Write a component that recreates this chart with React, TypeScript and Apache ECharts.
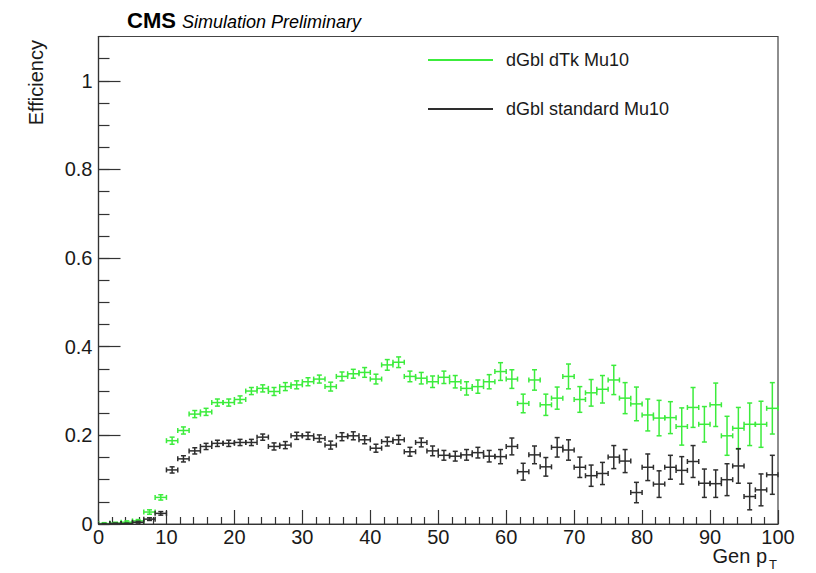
import React, { useEffect, useRef } from "react";
import * as echarts from "echarts";

// Binning: 60 bins from 0 to 100 GeV
const N_BINS = 60;
const X_MIN = 0;
const X_MAX = 100;
const BIN_WIDTH = (X_MAX - X_MIN) / N_BINS;

const X_TICKS = [0, 10, 20, 30, 40, 50, 60, 70, 80, 90, 100];
const Y_TICK_LABELS = ["0", "0.2", "0.4", "0.6", "0.8", "1"];

const SERIES_NAMES = ["dGbl dTk Mu10", "dGbl standard Mu10"];

// dGbl dTk Mu10 (green)
const dTkEff = [
  0.001, 0.002, 0.004, 0.007, 0.027, 0.060, 0.188, 0.211, 0.248, 0.253,
  0.274, 0.274, 0.281, 0.300, 0.306, 0.299, 0.310, 0.314, 0.321, 0.327,
  0.310, 0.333, 0.339, 0.342, 0.327, 0.359, 0.365, 0.333, 0.329, 0.321,
  0.331, 0.321, 0.306, 0.310, 0.321, 0.344, 0.327, 0.272, 0.325, 0.269,
  0.284, 0.333, 0.281, 0.296, 0.304, 0.325, 0.284, 0.271, 0.246, 0.239,
  0.240, 0.220, 0.263, 0.225, 0.269, 0.199, 0.216, 0.225, 0.225, 0.261,
];
const dTkErr = [
  0.002, 0.002, 0.003, 0.003, 0.005, 0.006, 0.008, 0.008, 0.008, 0.008,
  0.008, 0.008, 0.008, 0.008, 0.008, 0.009, 0.009, 0.009, 0.009, 0.009,
  0.010, 0.010, 0.010, 0.011, 0.011, 0.012, 0.012, 0.012, 0.013, 0.013,
  0.014, 0.014, 0.015, 0.015, 0.016, 0.020, 0.021, 0.021, 0.023, 0.024,
  0.025, 0.028, 0.029, 0.030, 0.031, 0.033, 0.035, 0.038, 0.036, 0.040,
  0.036, 0.042, 0.045, 0.040, 0.049, 0.044, 0.047, 0.048, 0.052, 0.058,
];

// dGbl standard Mu10 (black)
const stdEff = [
  0.000, 0.001, 0.001, 0.004, 0.011, 0.024, 0.122, 0.147, 0.165, 0.175,
  0.182, 0.182, 0.184, 0.184, 0.196, 0.175, 0.178, 0.199, 0.199, 0.193,
  0.178, 0.197, 0.199, 0.190, 0.171, 0.186, 0.190, 0.163, 0.184, 0.165,
  0.155, 0.153, 0.156, 0.161, 0.153, 0.152, 0.175, 0.118, 0.156, 0.129,
  0.173, 0.167, 0.128, 0.109, 0.114, 0.151, 0.142, 0.071, 0.128, 0.090,
  0.128, 0.121, 0.141, 0.092, 0.091, 0.100, 0.131, 0.062, 0.077, 0.111,
];
const stdErr = [
  0.001, 0.001, 0.001, 0.002, 0.003, 0.004, 0.007, 0.007, 0.007, 0.007,
  0.007, 0.007, 0.007, 0.007, 0.007, 0.008, 0.008, 0.008, 0.008, 0.008,
  0.009, 0.009, 0.009, 0.009, 0.009, 0.010, 0.010, 0.010, 0.010, 0.011,
  0.011, 0.011, 0.012, 0.012, 0.013, 0.016, 0.019, 0.019, 0.020, 0.021,
  0.022, 0.023, 0.023, 0.024, 0.025, 0.026, 0.026, 0.023, 0.030, 0.030,
  0.027, 0.031, 0.036, 0.032, 0.031, 0.036, 0.039, 0.030, 0.036, 0.044,
];

const GREEN = "#3cec3c";
const BLACK = "#2e2e2e";
const FONT = "Liberation Sans, Arial, Helvetica, sans-serif";

const binCenters = Array.from({ length: N_BINS }, (_, i) => X_MIN + (i + 0.5) * BIN_WIDTH);

function makeErrorSeries(name: string, vals: number[], errs: number[], color: string) {
  const data = binCenters.map((c, i) => [c, vals[i], errs[i]]);
  return {
    name,
    type: "custom",
    xAxisIndex: 0,
    yAxisIndex: 0,
    clip: true,
    encode: { x: 0, y: 1 },
    data,
    renderItem: (_params: any, api: any) => {
      const x = api.value(0);
      const y = api.value(1);
      const e = api.value(2);
      const hw = BIN_WIDTH / 2;
      const l = api.coord([x - hw, y]);
      const r = api.coord([x + hw, y]);
      const b = api.coord([x, y - e]);
      const t = api.coord([x, y + e]);
      const cap = 2.5;
      const style = { stroke: color, lineWidth: 1.5, fill: "none" };
      return {
        type: "group",
        children: [
          { type: "line", shape: { x1: l[0], y1: l[1], x2: r[0], y2: r[1] }, style },
          { type: "line", shape: { x1: l[0], y1: l[1] - cap, x2: l[0], y2: l[1] + cap }, style },
          { type: "line", shape: { x1: r[0], y1: r[1] - cap, x2: r[0], y2: r[1] + cap }, style },
          { type: "line", shape: { x1: b[0], y1: b[1], x2: t[0], y2: t[1] }, style },
          { type: "line", shape: { x1: t[0] - cap, y1: t[1], x2: t[0] + cap, y2: t[1] }, style },
          { type: "line", shape: { x1: b[0] - cap, y1: b[1], x2: b[0] + cap, y2: b[1] }, style },
        ],
      };
    },
  };
}

export default function App() {
  const ref = useRef<HTMLDivElement>(null);

  useEffect(() => {
    if (!ref.current) return;
    const chart = echarts.init(ref.current, undefined, { renderer: "svg" });
    const axisColor = "#333";
    const option: any = {
      animation: false,
      backgroundColor: "#ffffff",
      grid: {
        left: 98.5,
        right: 38,
        top: 36.5,
        bottom: 49,
        show: true,
        borderColor: "#444",
        borderWidth: 1.2,
        backgroundColor: "transparent",
      },
      xAxis: {
        type: "value",
        min: X_MIN,
        max: X_MAX,
        interval: 10,
        axisLine: { show: true, onZero: false, lineStyle: { color: axisColor, width: 1.2 } },
        axisTick: { show: true, inside: true, length: 14, lineStyle: { color: axisColor, width: 1.2 } },
        minorTick: { show: true, splitNumber: 5, length: 7, lineStyle: { color: axisColor, width: 1.2 } },
        splitLine: { show: false },
        minorSplitLine: { show: false },
        axisLabel: {
          show: true,
          margin: 3,
          fontSize: 20,
          fontFamily: FONT,
          color: "#1a1a1a",
          formatter: (v: number) => (X_TICKS.includes(v) ? String(v) : ""),
        },
      },
      yAxis: [
        {
          type: "value",
          min: 0,
          max: 1.1,
          interval: 0.2,
          position: "left",
          axisLine: { show: true, onZero: false, lineStyle: { color: axisColor, width: 1.2 } },
          axisTick: { show: true, inside: true, length: 22, lineStyle: { color: axisColor, width: 1.2 } },
          splitLine: { show: false },
          axisLabel: {
            show: true,
            margin: 6,
            fontSize: 20,
            fontFamily: FONT,
            color: "#1a1a1a",
            showMaxLabel: false,
            formatter: (v: number) => {
              const idx = Math.round(v / 0.2);
              if (Math.abs(v - idx * 0.2) > 1e-6) return "";
              return Y_TICK_LABELS[idx] ?? "";
            },
          },
        },
        {
          type: "value",
          min: 0,
          max: 1.1,
          interval: 0.05,
          position: "left",
          offset: 0,
          axisLine: { show: false },
          axisTick: { show: true, inside: true, length: 11, lineStyle: { color: axisColor, width: 1.2 } },
          splitLine: { show: false },
          axisLabel: { show: false },
        },
      ],
      series: [
        makeErrorSeries(SERIES_NAMES[0], dTkEff, dTkErr, GREEN),
        makeErrorSeries(SERIES_NAMES[1], stdEff, stdErr, BLACK),
      ],
      graphic: [
        {
          type: "text",
          x: 127,
          y: 31,
          style: { text: "CMS", font: `bold 22px ${FONT}`, fill: "#000", textAlign: "left", textVerticalAlign: "bottom" },
        },
        {
          type: "text",
          x: 182,
          y: 30.5,
          style: { text: "Simulation Preliminary", font: `italic 18px ${FONT}`, fill: "#000", textAlign: "left", textVerticalAlign: "bottom" },
        },
        {
          type: "text",
          x: 36,
          y: 40,
          rotation: Math.PI / 2,
          style: { text: "Efficiency", font: `20px ${FONT}`, fill: "#1a1a1a", textAlign: "right", textVerticalAlign: "middle" },
        },
        {
          type: "text",
          x: 767,
          y: 546,
          style: { text: "Gen p", font: `20px ${FONT}`, fill: "#1a1a1a", textAlign: "right", textVerticalAlign: "top" },
        },
        {
          type: "text",
          x: 769,
          y: 558,
          style: { text: "T", font: `13px ${FONT}`, fill: "#1a1a1a", textAlign: "left", textVerticalAlign: "top" },
        },
        {
          type: "line",
          shape: { x1: 428, y1: 60, x2: 493, y2: 60 },
          style: { stroke: GREEN, lineWidth: 2 },
        },
        {
          type: "text",
          x: 506,
          y: 60,
          style: { text: SERIES_NAMES[0], font: `18px ${FONT}`, fill: "#1a1a1a", textAlign: "left", textVerticalAlign: "middle" },
        },
        {
          type: "line",
          shape: { x1: 428, y1: 109, x2: 493, y2: 109 },
          style: { stroke: BLACK, lineWidth: 2 },
        },
        {
          type: "text",
          x: 506,
          y: 109,
          style: { text: SERIES_NAMES[1], font: `18px ${FONT}`, fill: "#1a1a1a", textAlign: "left", textVerticalAlign: "middle" },
        },
      ],
    };
    chart.setOption(option);
    return () => chart.dispose();
  }, []);

  return (
    <div
      ref={ref}
      style={{ position: "absolute", left: 0, top: 0, width: 816, height: 573, background: "#fff" }}
    />
  );
}
